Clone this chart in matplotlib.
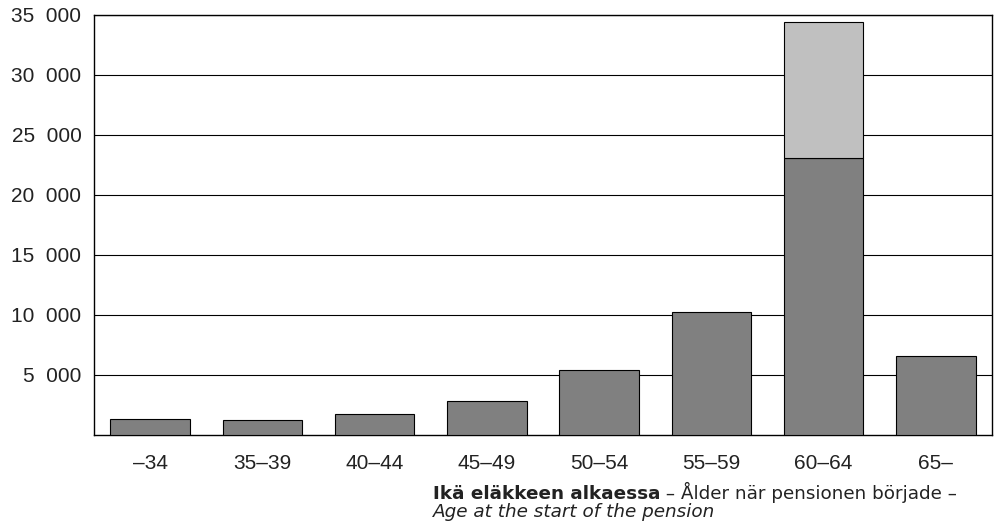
import matplotlib
matplotlib.use("Agg")
import matplotlib.pyplot as plt
import numpy as np

plt.rcParams['font.family'] = ['Liberation Sans', 'DejaVu Sans']

# Age groups at the start of the pension
categories = ['\u201334', '35\u201339', '40\u201344', '45\u201349', '50\u201354', '55\u201359', '60\u201364', '65\u2013']
dark_values = [1360, 1250, 1780, 2870, 5400, 10250, 23100, 6580]
light_values = [0, 0, 0, 0, 0, 0, 11350, 0]
y_ticks = [5000, 10000, 15000, 20000, 25000, 30000, 35000]

fig = plt.figure(figsize=(10.03, 5.29), dpi=100)
ax = fig.add_axes([94 / 1003, 1 - 435 / 529, 898 / 1003, 420 / 529])

x = np.arange(len(categories))
ax.bar(x, dark_values, width=0.71, color='#808080', edgecolor='black', linewidth=0.8, zorder=3)
ax.bar(x, light_values, width=0.71, bottom=dark_values, color='#c0c0c0',
       edgecolor='black', linewidth=0.8, zorder=3)
# hide the zero-height light bars
for p, v in zip(ax.patches[len(categories):], light_values):
    if v == 0:
        p.set_visible(False)

ax.set_xlim(-0.5, len(categories) - 0.5)
ax.set_ylim(0, 35000)
ax.set_yticks(y_ticks)
ax.set_yticklabels([f"{v:,}".replace(",", "  ") for v in y_ticks])
ax.set_xticks(x)
ax.set_xticklabels(categories)
ax.tick_params(axis='both', length=0, labelsize=15, colors='#222222')
ax.tick_params(axis='y', pad=9)
ax.tick_params(axis='x', pad=14)
ax.yaxis.grid(True, color='black', linewidth=0.8, zorder=0)
for s in ax.spines.values():
    s.set_linewidth(1.0)
    s.set_color('black')

# axis title in mixed styles
fig.canvas.draw()
r = fig.canvas.get_renderer()
x0, y1, y2 = 433 / 1003, 1 - 499 / 529, 1 - 517 / 529
tfont = ['DejaVu Sans']
t1 = fig.text(x0, y1, 'Ikä eläkkeen alkaessa', fontsize=13.2, fontweight='bold',
              family=tfont, va='baseline', ha='left', color='#222222')
bb = t1.get_window_extent(r)
fig.text(bb.x1 / fig.bbox.width, y1, ' \u2013 Ålder när pensionen började \u2013',
         fontsize=13.2, family=tfont, va='baseline', ha='left', color='#222222')
fig.text(x0, y2, 'Age at the start of the pension', fontsize=13.2, style='italic',
         family=tfont, va='baseline', ha='left', color='#222222')

fig.savefig('out.png', dpi=100)
